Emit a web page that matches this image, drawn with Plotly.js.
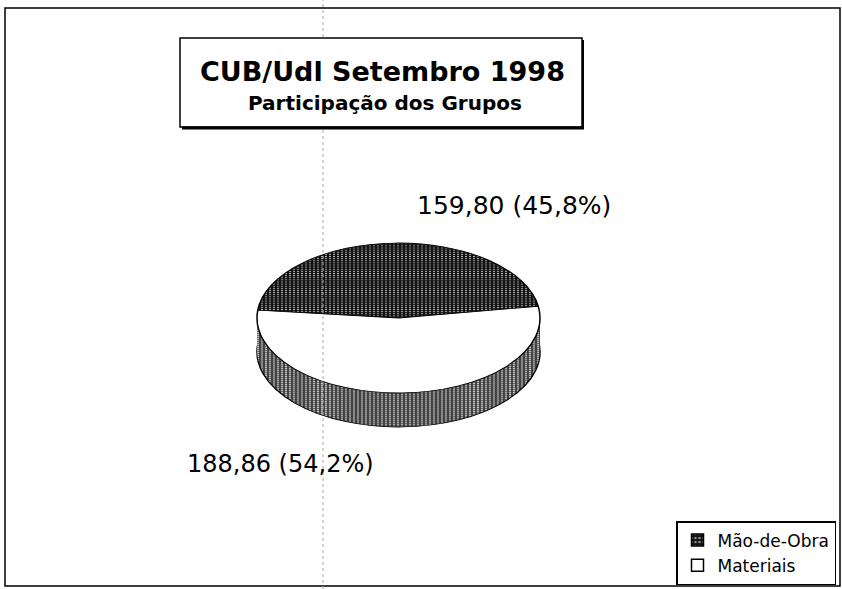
<!DOCTYPE html>
<html><head><meta charset="utf-8">
<script src="https://cdn.plot.ly/plotly-3.0.1.min.js"></script>
<style>html,body{margin:0;padding:0;background:#fff}#chart{width:842px;height:589px}</style>
</head><body><div id="chart"></div>
<script>
// ---- data ----
var groupLabels = ["Mão-de-Obra", "Materiais"];
var groupValues = [159.80, 188.86];
var titleMain = "CUB/Udl Setembro 1998";
var titleSub = "Participação dos Grupos";

// ---- helpers ----
var W = 842, H = 589;
function px(x){ return x / W; }
function py(y){ return 1 - y / H; }
function fmt(v, d){ return v.toFixed(d).replace('.', ','); }
var total = groupValues.reduce(function(a,b){return a+b;}, 0);
var labelTexts = groupValues.map(function(v){ return fmt(v,2) + ' (' + fmt(v/total*100,1) + '%)'; });

var FONT = "DejaVu Sans, Arial, sans-serif";
var domain = {x: [px(257), px(540)], y: [py(318+150), py(318-150)]};
var SQUASH = 0.53, DEPTH = 34, STEP = 2;

var traces = [];
var offsets = [];
// side (depth) copies, deepest first
for (var k = DEPTH; k > 0; k -= STEP) {
  traces.push({
    type: 'pie', labels: groupLabels, values: groupValues, sort: false,
    direction: 'clockwise', rotation: -84, domain: domain,
    textinfo: 'none', hoverinfo: 'skip', showlegend: false,
    marker: {
      colors: ['#2e2e2e', '#3c3c3c'],
      pattern: {shape: '.', bgcolor: ['#2e2e2e', '#3c3c3c'], fgcolor: '#c8c8c8', size: 4, solidity: 0.3},
      line: {color: k === DEPTH ? '#000' : 'rgba(0,0,0,0)', width: k === DEPTH ? 1.5 : 0}
    }
  });
  offsets.push(k);
}
// top face
traces.push({
  type: 'pie', labels: groupLabels, values: groupValues, sort: false,
  direction: 'clockwise', rotation: -84, domain: domain,
  textinfo: 'none', hoverinfo: 'label+value+percent', showlegend: true,
  marker: {
    colors: ['#1a1a1a', '#ffffff'],
    pattern: {shape: ['.', ''], bgcolor: ['#141414', '#ffffff'], fgcolor: '#bdbdbd', size: 4, solidity: 0.22},
    line: {color: '#000', width: 1.5}
  }
});
offsets.push(0);

var shapes = [
  // outer frame
  {type: 'rect', xref: 'paper', yref: 'paper', x0: px(5), x1: px(840), y0: py(586), y1: py(8), line: {color: '#000', width: 1.5}},
  // scan fold (dotted)
  {type: 'line', xref: 'paper', yref: 'paper', x0: px(323), x1: px(323), y0: 0, y1: 1, line: {color: '#aaa', width: 1, dash: 'dot'}},
  // title box
  {type: 'rect', xref: 'paper', yref: 'paper', x0: px(180), x1: px(582), y0: py(127), y1: py(38), fillcolor: '#fff', line: {color: '#000', width: 1.5}},
  {type: 'line', xref: 'paper', yref: 'paper', x0: px(182), x1: px(584), y0: py(128), y1: py(128), line: {color: '#000', width: 3}},
  {type: 'line', xref: 'paper', yref: 'paper', x0: px(583), x1: px(583), y0: py(128), y1: py(40), line: {color: '#000', width: 2}}
];

var annotations = [
  {xref: 'paper', yref: 'paper', x: px(382), y: py(71), text: titleMain, showarrow: false,
   xanchor: 'center', yanchor: 'middle', font: {family: FONT, size: 27, weight: 'bold', color: '#000'}},
  {xref: 'paper', yref: 'paper', x: px(385), y: py(103), text: titleSub, showarrow: false,
   xanchor: 'center', yanchor: 'middle', font: {family: FONT, size: 20, weight: 'bold', color: '#000'}},
  {xref: 'paper', yref: 'paper', x: px(514), y: py(205), text: labelTexts[0], showarrow: false,
   xanchor: 'center', yanchor: 'middle', font: {family: FONT, size: 25, color: '#000'}},
  {xref: 'paper', yref: 'paper', x: px(280), y: py(464), text: labelTexts[1], showarrow: false,
   xanchor: 'center', yanchor: 'middle', font: {family: FONT, size: 24, color: '#000'}}
];

var layout = {
  width: W, height: H,
  margin: {l: 0, r: 0, t: 0, b: 0},
  paper_bgcolor: '#fff', plot_bgcolor: '#fff',
  shapes: shapes, annotations: annotations,
  showlegend: true,
  legend: {x: px(836), y: py(521), xanchor: 'right', yanchor: 'top',
           bordercolor: '#000', borderwidth: 1.5, bgcolor: '#fff',
           font: {family: FONT, size: 17, color: '#000'}, itemwidth: 30}
};

Plotly.newPlot('chart', traces, layout, {displayModeBar: false, staticPlot: true}).then(function(gd){
  var groups = gd.querySelectorAll('.pielayer .trace');
  var cy = gd._fullLayout._size.t + gd._fullLayout._size.h * (1 - (domain.y[0] + domain.y[1]) / 2);
  for (var i = 0; i < groups.length; i++) {
    var dy = offsets[i] || 0;
    groups[i].setAttribute('transform',
      'translate(0,' + (cy + dy) + ') scale(1,' + SQUASH + ') translate(0,' + (-cy) + ')');
  }
});
</script></body></html>
